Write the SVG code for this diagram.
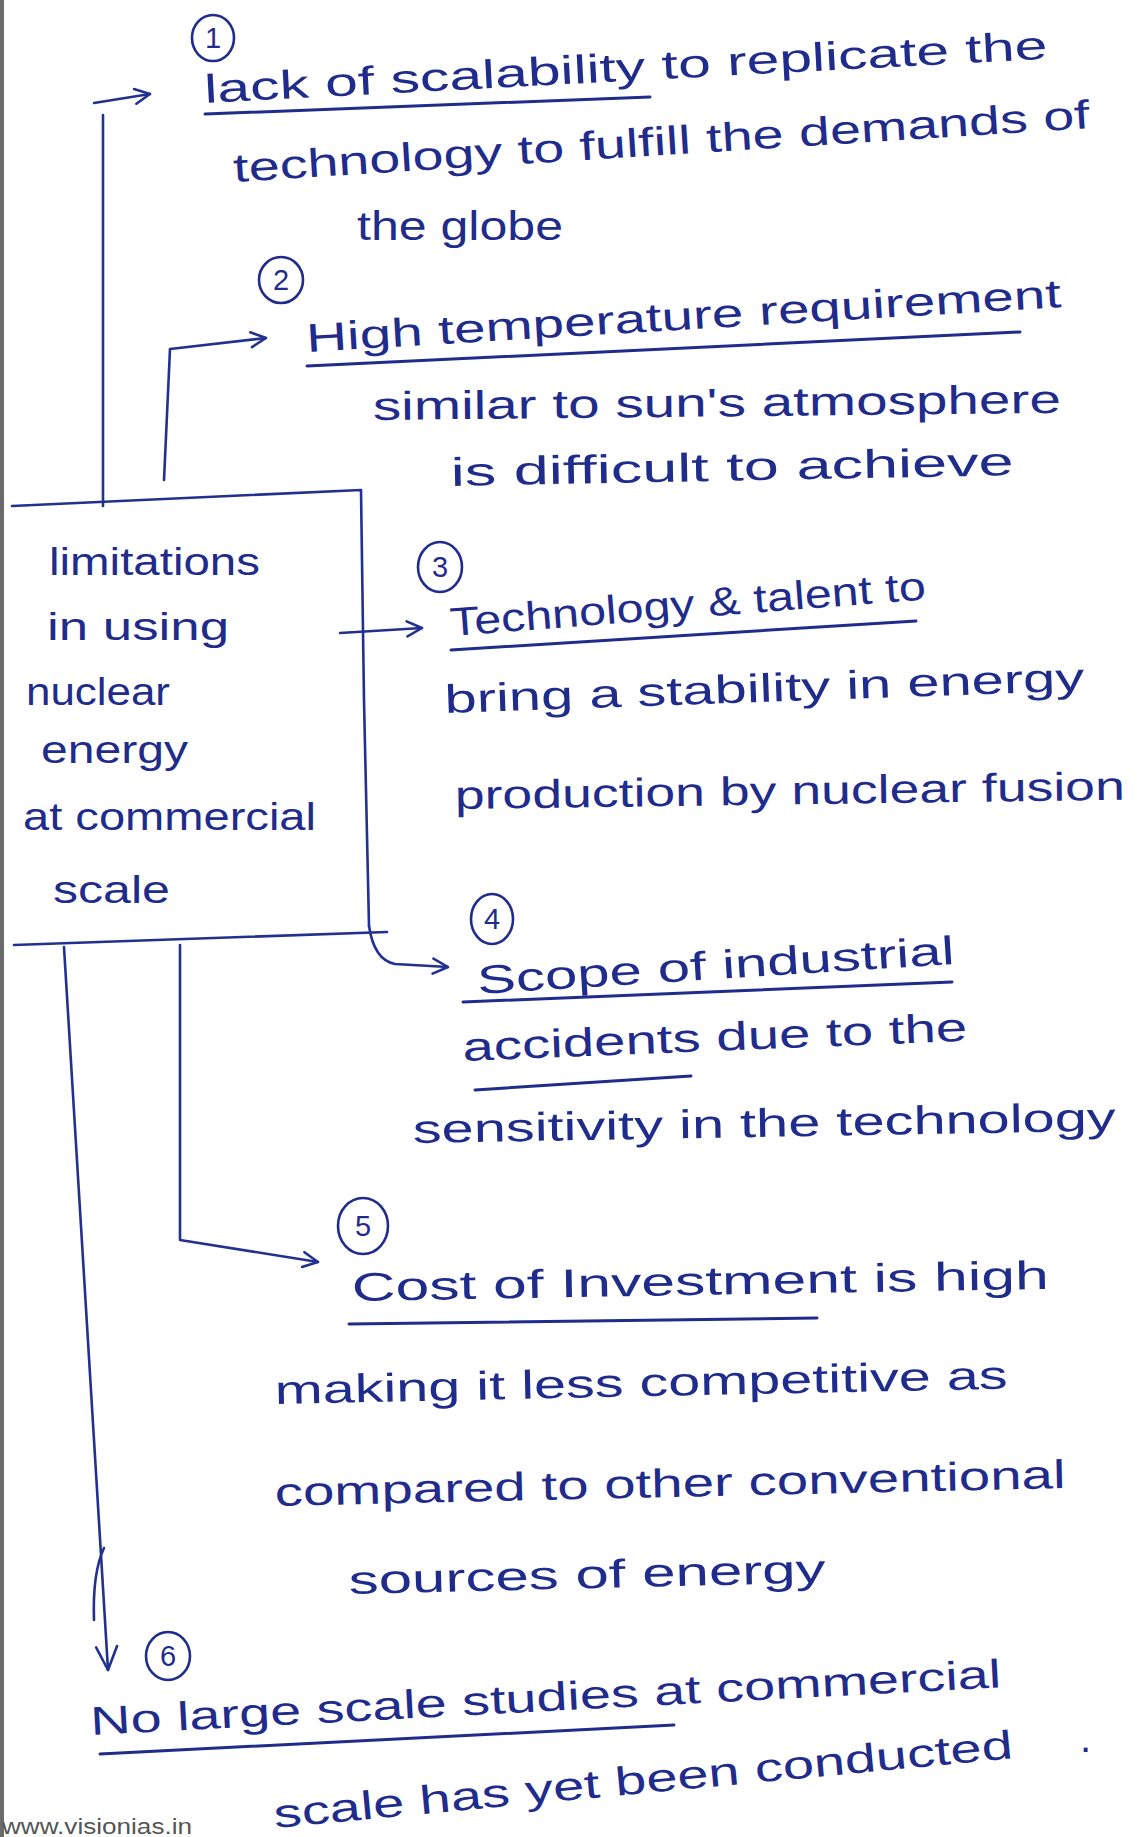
<svg xmlns="http://www.w3.org/2000/svg" width="1138" height="1837" viewBox="0 0 1138 1837">
  <style>
    .ink { font-family: "Liberation Sans", "DejaVu Sans", sans-serif; font-size: 40px; fill: #1f2c8c; }
    .box { font-size: 38px; }
    .num { font-family: "Liberation Sans", sans-serif; font-size: 29px; fill: #1f2c8c; text-anchor: middle; }
    .ring { fill: none; stroke: #1f2c8c; stroke-width: 2.6; }
    .ul { fill: none; stroke: #1f2c8c; stroke-width: 3; stroke-linecap: round; }
    .line { fill: none; stroke: #22308f; stroke-width: 2.6; stroke-linecap: round; stroke-linejoin: round; }
    .edge { fill: #6b6b6b; }
    .site { font-family: "Liberation Sans", sans-serif; font-size: 22px; fill: #555; }
  </style>
  <defs>
    <marker id="head" viewBox="0 0 12 12" refX="11" refY="6" markerWidth="18" markerHeight="18" markerUnits="userSpaceOnUse" orient="auto">
      <path d="M1,1 L11,6 L1,11" fill="none" stroke="#22308f" stroke-width="1.7" stroke-linecap="round" stroke-linejoin="round"/>
    </marker>
    <marker id="vhead" viewBox="0 0 12 12" refX="11" refY="6" markerWidth="28" markerHeight="28" markerUnits="userSpaceOnUse" orient="auto">
      <path d="M1,1.5 L11,6 L1,10.5" fill="none" stroke="#22308f" stroke-width="1.1" stroke-linecap="round" stroke-linejoin="round"/>
    </marker>
  </defs>

  <rect width="1138" height="1837" fill="#ffffff"/>
  <rect class="edge" x="0" y="0" width="4" height="1837"/>

  <!-- central node: the open box on the left -->
  <g id="node-limitations">
    <path class="line" d="M12,506 L361,490 L364,700 L369,926"/>
    <path class="line" d="M14,945 L387,932"/>
    <text class="ink box" x="49" y="575" textLength="211" lengthAdjust="spacingAndGlyphs">limitations</text>
    <text class="ink box" x="47" y="640" textLength="182" lengthAdjust="spacingAndGlyphs">in using</text>
    <text class="ink box" x="26" y="705" textLength="144" lengthAdjust="spacingAndGlyphs">nuclear</text>
    <text class="ink box" x="41" y="763" textLength="147" lengthAdjust="spacingAndGlyphs">energy</text>
    <text class="ink box" x="23" y="830" textLength="293" lengthAdjust="spacingAndGlyphs">at commercial</text>
    <text class="ink box" x="53" y="903" textLength="117" lengthAdjust="spacingAndGlyphs">scale</text>
  </g>

  <!-- point 1 -->
  <g id="node-1">
    <ellipse class="ring" cx="213" cy="38" rx="21" ry="23"/>
    <text class="num" x="213" y="48">1</text>
    <text class="ink" x="205" y="103" transform="rotate(-3 205 103)" textLength="844" lengthAdjust="spacingAndGlyphs">lack of scalability to replicate the</text>
    <path class="ul" d="M205,114 L650,97"/>
    <text class="ink" x="234" y="182" transform="rotate(-3.6 234 182)" textLength="858" lengthAdjust="spacingAndGlyphs">technology to fulfill the demands of</text>
    <text class="ink" x="357" y="240" textLength="206" lengthAdjust="spacingAndGlyphs">the globe</text>
  </g>

  <!-- point 2 -->
  <g id="node-2">
    <ellipse class="ring" cx="281" cy="280" rx="22" ry="23"/>
    <text class="num" x="281" y="290">2</text>
    <text class="ink" x="307" y="352" transform="rotate(-3.4 307 352)" textLength="756" lengthAdjust="spacingAndGlyphs">High temperature requirement</text>
    <path class="ul" d="M307,366 L1020,332"/>
    <text class="ink" x="373" y="420" transform="rotate(-0.6 373 420)" textLength="688" lengthAdjust="spacingAndGlyphs">similar to sun's atmosphere</text>
    <text class="ink" x="451" y="486" transform="rotate(-1.1 451 486)" textLength="563" lengthAdjust="spacingAndGlyphs">is difficult to achieve</text>
  </g>

  <!-- point 3 -->
  <g id="node-3">
    <ellipse class="ring" cx="440" cy="567" rx="22" ry="25"/>
    <text class="num" x="440" y="577">3</text>
    <text class="ink" x="451" y="636" transform="rotate(-4.4 451 636)" textLength="477" lengthAdjust="spacingAndGlyphs">Technology &amp; talent to</text>
    <path class="ul" d="M451,650 L916,621"/>
    <text class="ink" x="445" y="713" transform="rotate(-2 445 713)" textLength="640" lengthAdjust="spacingAndGlyphs">bring a stability in energy</text>
    <text class="ink" x="455" y="809" transform="rotate(-0.8 455 809)" textLength="670" lengthAdjust="spacingAndGlyphs">production by nuclear fusion</text>
  </g>

  <!-- point 4 -->
  <g id="node-4">
    <ellipse class="ring" cx="492" cy="919" rx="21" ry="25"/>
    <text class="num" x="492" y="929">4</text>
    <text class="ink" x="478" y="994" transform="rotate(-3.6 478 994)" textLength="478" lengthAdjust="spacingAndGlyphs">Scope of industrial</text>
    <path class="ul" d="M463,1002 L952,982"/>
    <text class="ink" x="463" y="1061" transform="rotate(-2.3 463 1061)" textLength="505" lengthAdjust="spacingAndGlyphs">accidents due to the</text>
    <path class="ul" d="M475,1090 L691,1076"/>
    <text class="ink" x="413" y="1143" transform="rotate(-1 413 1143)" textLength="703" lengthAdjust="spacingAndGlyphs">sensitivity in the technology</text>
  </g>

  <!-- point 5 -->
  <g id="node-5">
    <ellipse class="ring" cx="363" cy="1226" rx="25" ry="28"/>
    <text class="num" x="363" y="1236">5</text>
    <text class="ink" x="352" y="1301" transform="rotate(-1 352 1301)" textLength="697" lengthAdjust="spacingAndGlyphs">Cost of Investment is high</text>
    <path class="ul" d="M349,1324 L817,1318"/>
    <text class="ink" x="275" y="1404" transform="rotate(-1.2 275 1404)" textLength="733" lengthAdjust="spacingAndGlyphs">making it less competitive as</text>
    <text class="ink" x="275" y="1506" transform="rotate(-1.3 275 1506)" textLength="791" lengthAdjust="spacingAndGlyphs">compared to other conventional</text>
    <text class="ink" x="349" y="1594" transform="rotate(-1.4 349 1594)" textLength="477" lengthAdjust="spacingAndGlyphs">sources of energy</text>
  </g>

  <!-- point 6 -->
  <g id="node-6">
    <ellipse class="ring" cx="168" cy="1656" rx="22" ry="24"/>
    <text class="num" x="168" y="1666">6</text>
    <text class="ink" x="91" y="1735" transform="rotate(-3 91 1735)" textLength="912" lengthAdjust="spacingAndGlyphs">No large scale studies at commercial</text>
    <path class="ul" d="M100,1754 L674,1725"/>
    <text class="ink" x="275" y="1828" transform="rotate(-5.4 275 1828)" textLength="742" lengthAdjust="spacingAndGlyphs">scale has yet been conducted</text>
    <text class="ink" x="1080" y="1752">.</text>
  </g>

  <!-- connectors from the box to each point -->
  <g id="connectors">
    <path class="line" d="M103,506 L103,115"/>
    <path class="line" d="M94,103 L150,94" marker-end="url(#head)"/>
    <path class="line" d="M164,480 L170,349 L266,338" marker-end="url(#head)"/>
    <path class="line" d="M340,633 L422,628" marker-end="url(#head)"/>
    <path class="line" d="M369,926 Q374,960 395,964 L448,967" marker-end="url(#head)"/>
    <path class="line" d="M180,945 L180,1240 L318,1262" marker-end="url(#head)"/>
    <path class="line" d="M64,947 L108,1670" marker-end="url(#vhead)"/>
    <path class="line" d="M94,1620 C93,1590 96,1565 104,1548"/>
  </g>

  <text class="site" x="2" y="1834" textLength="190" lengthAdjust="spacingAndGlyphs">www.visionias.in</text>
</svg>
